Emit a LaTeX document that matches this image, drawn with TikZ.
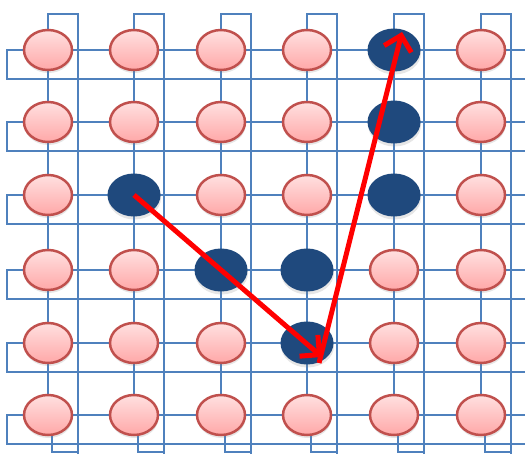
\documentclass[tikz,border=0pt]{standalone}
\usetikzlibrary{arrows.meta,shapes.geometric,shadows}
\definecolor{gridblue}{RGB}{79,129,189}
\definecolor{darkblue}{RGB}{31,73,125}
\definecolor{pinktop}{RGB}{255,224,224}
\definecolor{pinkbot}{RGB}{255,168,168}
\definecolor{pinkedge}{RGB}{192,80,77}
\definecolor{hopred}{RGB}{255,0,0}

\begin{document}
\begin{tikzpicture}[x=1pt, y=-1pt]
  % Define styles
  \tikzstyle{wire} = [draw=gridblue, line width=2.8pt]
  \tikzstyle{site} = [ellipse, inner sep=0pt, drop shadow={opacity=0.2, shadow xshift=0.5pt, shadow yshift=-3pt}]
  \tikzstyle{idle} = [site, draw=pinkedge, line width=2.5pt, top color=pinktop, bottom color=pinkbot, minimum width=48pt, minimum height=40pt]
  \tikzstyle{busy} = [site, fill=darkblue, minimum width=53pt, minimum height=43pt]
  \tikzstyle{hop} = [draw=hopred, line width=5pt, -{Straight Barb[length=14pt, width=28pt]}]

  \useasboundingbox (0,0) rectangle (525,454);

  % Columns with wrap-around links
  \foreach \x in {48,134,221,307,394,481} {
    \draw[wire] (\x,415) -- (\x,14) -- ({\x+30},14) -- ({\x+30},454);
    \draw[wire] ({\x+4},415) -- ({\x+4},452) -- ({\x+30},452);
  }

  % Rows with wrap-around links
  \foreach \y in {50,122,195,270,343,415}
    \draw[wire] (525,\y) -- (7,\y) -- (7,{\y+29}) -- (525,{\y+29});

  % Processors
  \foreach \y/\kinds [count=\r] in {50/{idle,idle,idle,idle,busy,idle},
                                    122/{idle,idle,idle,idle,busy,idle},
                                    195/{idle,busy,idle,idle,busy,idle},
                                    270/{idle,idle,busy,busy,idle,idle},
                                    343/{idle,idle,idle,busy,idle,idle},
                                    415/{idle,idle,idle,idle,idle,idle}}
    \foreach \k [count=\c] in \kinds {
      \pgfmathsetmacro\x{{48,134,221,307,394,481}[\c-1]}
      \node[\k] (n-\r-\c) at (\x,\y) {};
    }

  % Route
  \coordinate (turn) at ([shift={(15,14)}]n-5-4.center);
  \coordinate (back) at ([shift={(12,20)}]n-5-4.center);
  \coordinate (goal) at ([shift={(8,-18)}]n-1-5.center);
  \draw[hop] (n-3-2.center) -- (turn);
  \draw[hop] (back) -- (goal);
\end{tikzpicture}
\end{document}
